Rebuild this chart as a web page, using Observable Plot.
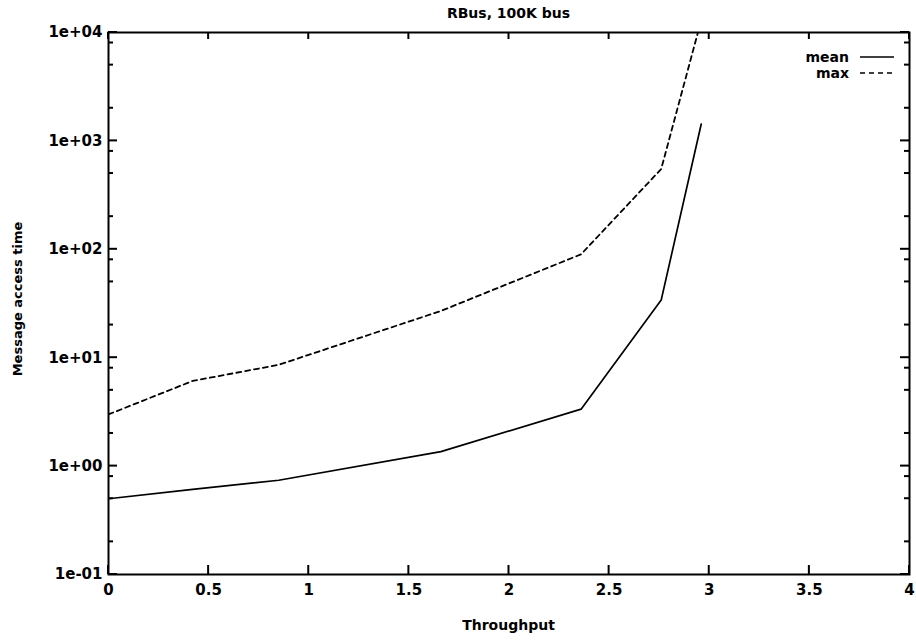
<!DOCTYPE html>
<html>
<head>
<meta charset="utf-8">
<script src="https://cdn.jsdelivr.net/npm/d3@7"></script>
<script src="https://cdn.jsdelivr.net/npm/@observablehq/plot@0.6"></script>
<style>
  html, body { margin: 0; padding: 0; background: #fff; }
  #chart { width: 916px; height: 644px; position: relative; }
  svg { font-family: "DejaVu Sans", sans-serif; }
</style>
</head>
<body>
<div id="chart"></div>
<script>
const throughput = [0, 0.42, 0.85, 1.66, 2.36, 2.76, 2.96];
const meanTime   = [0.5, 0.61, 0.74, 1.36, 3.35, 34, 1430];
const maxTime    = [3.0, 6.1, 8.6, 27, 90, 550, 13000];

const xTicks = [0, 0.5, 1, 1.5, 2, 2.5, 3, 3.5, 4];
const xTickLabels = ["0", "0.5", "1", "1.5", "2", "2.5", "3", "3.5", "4"];
const yTicks = [0.1, 1, 10, 100, 1000, 10000];
const yTickLabels = ["1e-01", "1e+00", "1e+01", "1e+02", "1e+03", "1e+04"];
const yMinorMultipliers = [2, 5, 8];
const yMinor = yTicks.slice(0, -1).flatMap(t => yMinorMultipliers.map(m => t * m));

const seriesNames = ["mean", "max"];
const title = "RBus, 100K bus";
const xLabel = "Throughput";
const yLabel = "Message access time";

const rows = [
  ...throughput.map((x, i) => ({x, y: meanTime[i], s: "mean"})),
  ...throughput.map((x, i) => ({x, y: maxTime[i], s: "max"}))
];

const xFmt = v => xTickLabels[xTicks.indexOf(v)];
const yFmt = v => yTickLabels[yTicks.findIndex(t => Math.abs(t - v) / t < 1e-6)];

const tickFont = {fontSize: 15, fontWeight: "bold"};
const W = 916, H = 644, ML = 108, MR = 7, MT = 32, MB = 70;

const majorLen = 9, minorLen = 5, xBottomLen = 9, xTopLen = 7;

const plot = Plot.plot({
  width: W,
  height: H,
  marginLeft: ML,
  marginRight: MR,
  marginTop: MT,
  marginBottom: MB,
  style: {fontFamily: "DejaVu Sans, sans-serif", background: "white", color: "black"},
  x: {domain: [0, 4]},
  y: {type: "log", domain: [0.1, 10000]},
  marks: [
    Plot.axisX(xTicks, {anchor: "bottom", tickSize: 0, tickPadding: 10, tickFormat: xFmt, ...tickFont, label: null}),
    Plot.axisY(yTicks, {anchor: "left", tickSize: 0, tickPadding: 6, tickFormat: yFmt, ...tickFont, label: null}),
    Plot.frame({stroke: "black", strokeWidth: 2}),
    Plot.line(rows.filter(d => d.s === "mean"), {x: "x", y: "y", stroke: "black", strokeWidth: 1.7, clip: true}),
    Plot.line(rows.filter(d => d.s === "max"), {x: "x", y: "y", stroke: "black", strokeWidth: 1.8,
      strokeDasharray: "5,4", clip: true})
  ]
});

const svg = d3.select(plot);
const x0 = ML, x1 = W - MR, y0 = MT, y1 = H - MB;

// pixel mapping built with d3 from the plot's frame (same as Plot's x / log-y scales)
const px = d3.scaleLinear().domain([0, 4]).range([x0, x1]);
const py = d3.scaleLog().domain([0.1, 10000]).range([y1, y0]);

const tg = svg.append("g");
function addTick(xa, ya, xb, yb) {
  tg.append("line")
    .attr("x1", xa).attr("y1", ya).attr("x2", xb).attr("y2", yb)
    .attr("stroke", "black").attr("stroke-width", 2);
}
xTicks.forEach(v => {
  const X = px(v);
  addTick(X, y1, X, y1 - xBottomLen);
  addTick(X, y0, X, y0 + xTopLen);
});
yTicks.forEach(v => {
  const Y = py(v);
  addTick(x0, Y, x0 + majorLen, Y);
  addTick(x1, Y, x1 - majorLen, Y);
});
yMinor.forEach(v => {
  const Y = py(v);
  addTick(x0, Y, x0 + minorLen, Y);
  addTick(x1, Y, x1 - minorLen, Y);
});

// title
svg.append("text")
  .attr("x", (x0 + x1) / 2).attr("y", 18)
  .attr("text-anchor", "middle")
  .style("font-size", "14px").style("font-weight", "bold")
  .text(title);

// axis labels
svg.append("text")
  .attr("x", (x0 + x1) / 2).attr("y", 630)
  .attr("text-anchor", "middle")
  .style("font-size", "14px").style("font-weight", "bold")
  .text(xLabel);
svg.append("text")
  .attr("transform", `translate(22,${(y0 + y1) / 2 - 4}) rotate(-90)`)
  .attr("text-anchor", "middle")
  .style("font-size", "13px").style("font-weight", "bold")
  .text(yLabel);

// legend (top right, inside frame)
const legend = svg.append("g");
seriesNames.forEach((name, i) => {
  const y = 57 + i * 16;
  legend.append("text")
    .attr("x", 849).attr("y", y).attr("dy", "0.35em")
    .attr("text-anchor", "end")
    .style("font-size", "14px").style("font-weight", "bold")
    .text(name);
  legend.append("line")
    .attr("x1", 860).attr("x2", 894).attr("y1", y).attr("y2", y)
    .attr("stroke", "black").attr("stroke-width", 1.7)
    .attr("stroke-dasharray", i === 1 ? "5,4" : null);
});

document.getElementById("chart").appendChild(plot);
</script>
</body>
</html>
